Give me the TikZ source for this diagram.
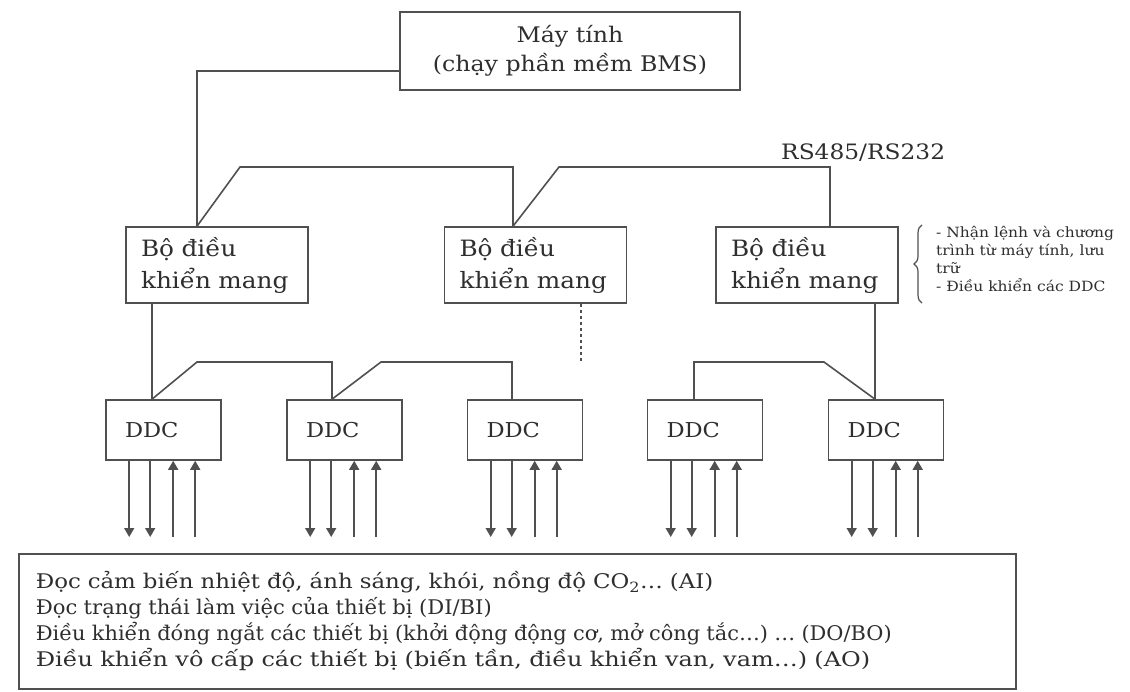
\documentclass[tikz,border=0pt]{standalone}
\usepackage{fontspec}
\setmainfont[FakeStretch=1.1]{DejaVu Serif}
\usetikzlibrary{arrows.meta,decorations.pathreplacing}
\definecolor{lc}{HTML}{505050}
\definecolor{tc}{HTML}{2E2E2E}
\begin{document}
\begin{tikzpicture}[x=1pt,y=-1pt,
  wire/.style={draw=lc, line width=1.6pt},
  box/.style={draw=lc, line width=1.6pt, fill=white, text=tc, rectangle},
  pcbox/.style={box, minimum width=340pt, minimum height=78pt, align=center,
    font=\fontsize{21.5}{29}\selectfont},
  netbox/.style={box, minimum width=182pt, minimum height=76pt, inner xsep=15pt,
    text width=152pt, align=left, font=\fontsize{22.5}{32}\selectfont},
  ddcbox/.style={box, minimum width=115pt, minimum height=60pt, inner xsep=19pt,
    text width=77pt, align=left, font=\fontsize{20.5}{25}\selectfont},
  outarr/.style={wire, -{Triangle[length=9pt,width=10pt]}},
  inarr/.style={wire, -{Triangle[length=9pt,width=10pt]}},
  lbl/.style={text=tc, inner sep=0pt}
]
\useasboundingbox (0,0) rectangle (1130,691);

% top computer
\node[pcbox] (pc) at (570,51) {Máy tính\\(chạy phần mềm BMS)};

% network controllers
\node[netbox] (bdk1) at (217,265) {Bộ điều\\khiển mang};
\node[netbox] (bdk2) at (535.5,265) {Bộ điều\\khiển mang};
\node[netbox] (bdk3) at (807,265) {Bộ điều\\khiển mang};

% DDC boxes
\node[ddcbox] (ddc1) at (163.5,430) {DDC};
\node[ddcbox] (ddc2) at (344.5,430) {DDC};
\node[ddcbox] (ddc3) at (525,430) {DDC};
\node[ddcbox] (ddc4) at (705,430) {DDC};
\node[ddcbox] (ddc5) at (886,430) {DDC};

% bus label
\node[lbl, font=\fontsize{21.2}{24}\selectfont, anchor=west] (rs) at (781,153) {RS485/RS232};

% computer to first controller
\coordinate (b1t) at ([xshift=-20pt]bdk1.north);
\coordinate (b2t) at ([xshift=-22.5pt]bdk2.north);
\coordinate (b3t) at ([xshift=23pt]bdk3.north);
\draw[wire] ([yshift=-20pt]pc.west) -| (b1t);

% RS485 bus
\draw[wire] (b1t) -- (240,167) -- (b2t |- 0,167) -- (b2t);
\draw[wire] (b2t) -- (559,167) -- (b3t |- 0,167) -- (b3t);

% dotted continuation
\coordinate (b2d) at ([xshift=45.5pt]bdk2.south);
\coordinate (b2e) at (581,363);
\draw[wire, dash pattern=on 3pt off 3pt, line width=1.3pt] (b2d) -- (b2e);

% controller 1 to DDC group
\coordinate (d1t) at ([xshift=-11.5pt]ddc1.north);
\coordinate (d2t) at ([xshift=-12.5pt]ddc2.north);
\coordinate (d3t) at ([xshift=-13pt]ddc3.north);
\coordinate (d4t) at ([xshift=-11pt]ddc4.north);
\coordinate (d5t) at ([xshift=-11pt]ddc5.north);
\draw[wire] (bdk1.south -| d1t) -- (d1t);
\draw[wire] (d1t) -- (197,362) -- (d2t |- 0,362) -- (d2t);
\draw[wire] (d2t) -- (381,362) -- (d3t |- 0,362) -- (d3t);

% controller 3 to DDC group
\draw[wire] (bdk3.south -| d5t) -- (d5t);
\draw[wire] (d5t) -- (824,362) -- (d4t |- 0,362) -- (d4t);

% I/O arrows
\foreach \d in {ddc1,ddc2,ddc3,ddc4,ddc5}{
  \coordinate (o1) at ([xshift=24pt]\d.south west);
  \coordinate (o2) at ([xshift=45pt]\d.south west);
  \coordinate (i1) at ([xshift=68pt]\d.south west);
  \coordinate (i2) at ([xshift=90pt]\d.south west);
  \draw[outarr] (o1) -- (o1 |- 0,537);
  \draw[outarr] (o2) -- (o2 |- 0,537);
  \draw[inarr] (i1 |- 0,537) -- (i1);
  \draw[inarr] (i2 |- 0,537) -- (i2);
}

% brace and note
\coordinate (brb) at (922,303);
\coordinate (brt) at (922,225);
\draw[draw=lc, line width=1.2pt, decorate, decoration={brace, amplitude=8pt}] (brb) -- (brt);
\node[lbl, anchor=west, align=left, font=\fontsize{14.1}{18}\selectfont] (note) at (936,259)
  {- Nhận lệnh và chương\\trình từ máy tính, lưu\\trữ\\- Điều khiển các DDC};

% bottom box
\node[box, anchor=north west, minimum width=997pt, minimum height=135pt,
  inner xsep=17pt, text width=963pt, align=left,
  font=\fontsize{20.2}{26}\selectfont] (io) at (18,553)
  {\scalebox{1.03}[1]{Đọc cảm biến nhiệt độ, ánh sáng, khói, nồng độ CO\textsubscript{2}… (AI)}\\
   \scalebox{0.95}[1]{Đọc trạng thái làm việc của thiết bị (DI/BI)}\\
   \scalebox{0.94}[1]{Điều khiển đóng ngắt các thiết bị (khởi động động cơ, mở công tắc…) … (DO/BO)}\\
   \scalebox{1.08}[1]{Điều khiển vô cấp các thiết bị (biến tần, điều khiển van, vam…) (AO)}};
\end{tikzpicture}
\end{document}
